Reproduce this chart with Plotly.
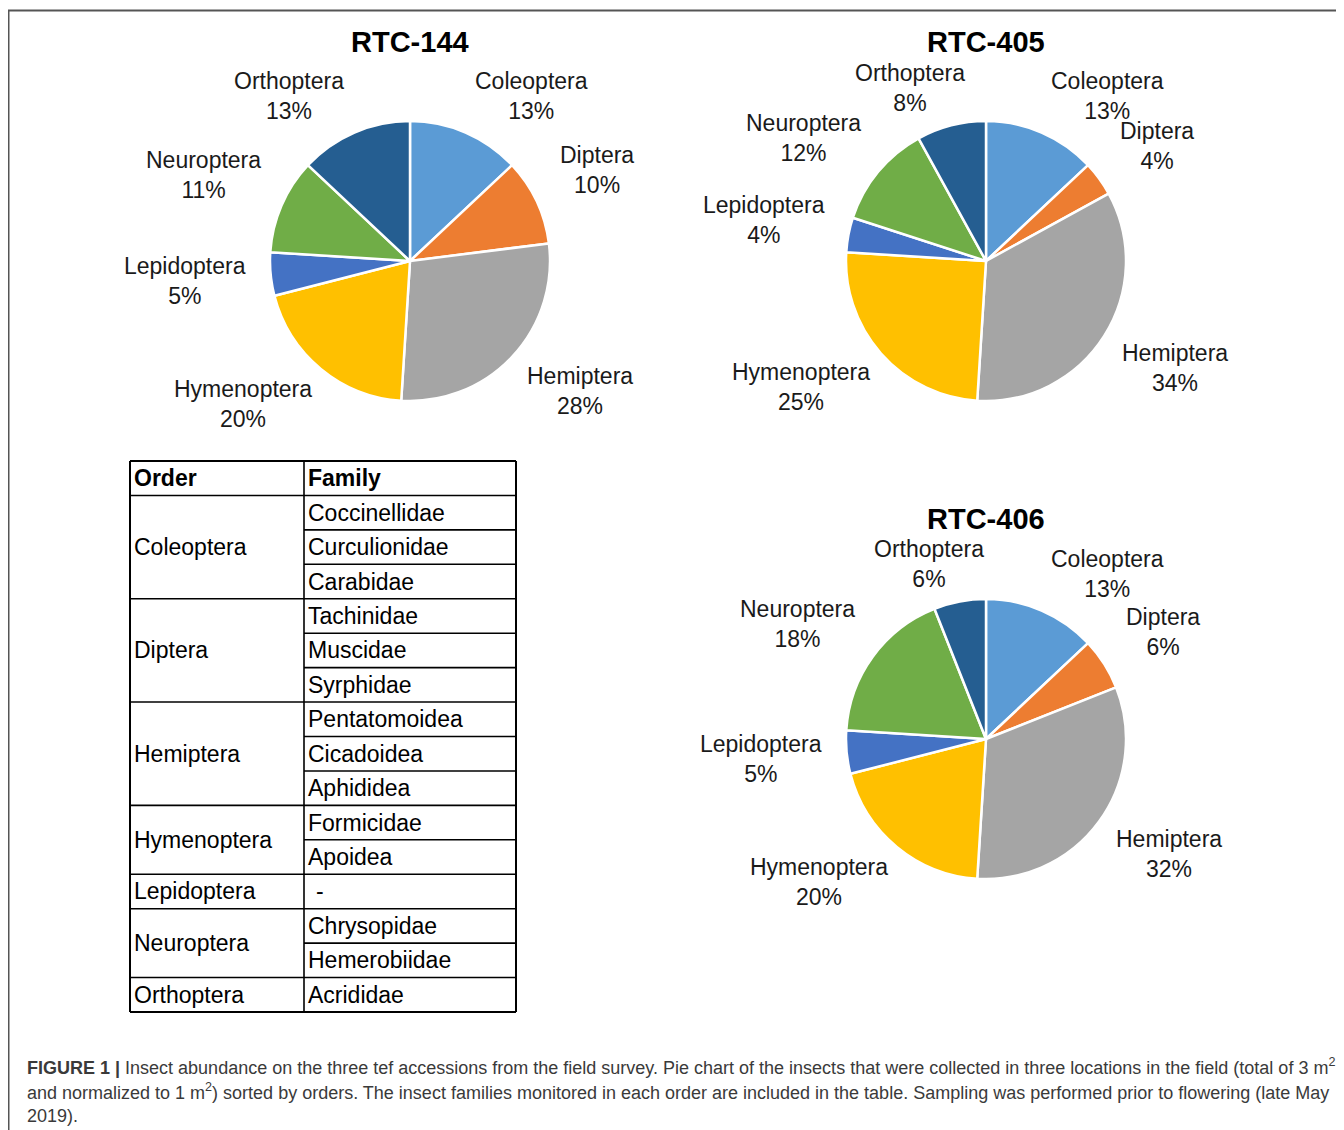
import math
import plotly.graph_objects as go

# page has an 8px body margin: figure is drawn in page coords shifted by OFF
OFF = 8
W, H = 1344 - OFF, 1130 - OFF

# ---------------- data ----------------
orders = ["Coleoptera", "Diptera", "Hemiptera", "Hymenoptera",
          "Lepidoptera", "Neuroptera", "Orthoptera"]
titles = ["RTC-144", "RTC-405", "RTC-406"]
rtc144 = [13, 10, 28, 20, 5, 11, 13]
rtc405 = [13, 4, 34, 25, 4, 12, 8]
rtc406 = [13, 6, 32, 20, 5, 18, 6]

families = [
    ["Coccinellidae", "Curculionidae", "Carabidae"],
    ["Tachinidae", "Muscidae", "Syrphidae"],
    ["Pentatomoidea", "Cicadoidea", "Aphididea"],
    ["Formicidae", "Apoidea"],
    ["-"],
    ["Chrysopidae", "Hemerobiidae"],
    ["Acrididae"],
]
table_header = ["Order", "Family"]

caption_lines = [
    "<b>FIGURE 1 |</b> Insect abundance on the three tef accessions from the field survey. "
    "Pie chart of the insects that were collected in three locations in the field (total of 3 m<sup>2</sup>",
    "and normalized to 1 m<sup>2</sup>) sorted by orders. The insect families monitored in each order "
    "are included in the table. Sampling was performed prior to flowering (late May",
    "2019).",
]

# ---------------- styles / layout ----------------
colors = ["#5B9BD5", "#ED7D31", "#A5A5A5", "#FFC000", "#4472C4", "#70AD47", "#255E91"]
FONT = "Liberation Sans, Arial, sans-serif"
LABEL_FS = 23
TITLE_FS = 29
R = 140
GAP_X, GAP_Y = 22, 11
pie_layout = [  # (centre x px, centre y px, title y px) in page pixels
    (410, 261, 42),
    (986, 261, 42),
    (986, 739, 519),
]
series = [rtc144, rtc405, rtc406]


def px(x):
    return (x - OFF) / W


def py(y):
    return 1 - (y - OFF) / H


fig = go.Figure()
annotations = []
shapes = []

for title, vals, (cx, cy, ty) in zip(titles, series, pie_layout):
    fig.add_trace(go.Pie(
        labels=orders, values=vals, sort=False, direction="clockwise", rotation=0,
        marker=dict(colors=colors, line=dict(color="white", width=2.5)),
        textinfo="none", hoverinfo="label+percent", showlegend=False,
        domain=dict(x=[px(cx - R), px(cx + R)], y=[py(cy + R), py(cy - R)]),
    ))
    annotations.append(dict(
        x=px(cx), y=py(ty), xref="paper", yref="paper", showarrow=False,
        text=f"<b>{title}</b>", font=dict(family=FONT, size=TITLE_FS, color="black"),
        xanchor="center", yanchor="middle"))
    total = sum(vals)
    cum = 0
    for name, v in zip(orders, vals):
        mid = (cum + v / 2) / total * 2 * math.pi
        cum += v
        s, c = math.sin(mid), math.cos(mid)
        ax, ay = cx + (R + GAP_X) * s, cy - (R + GAP_Y) * c
        pct = round(v / total * 100)
        w = 0.5 * LABEL_FS * max(len(name), len(f"{pct}%"))
        h = 2 * 1.15 * LABEL_FS
        fx = max(-1, min(1, 2.5 * s))
        fy = max(-1, min(1, 2.5 * c))
        tx, tyy = ax + fx * w / 2, ay - fy * h / 2
        annotations.append(dict(
            x=px(tx), y=py(tyy), xref="paper", yref="paper", showarrow=False,
            text=f"{name}<br>{pct}%", align="center",
            font=dict(family=FONT, size=LABEL_FS, color="#1a1a1a"),
            xanchor="center", yanchor="middle"))

# ---------------- table ----------------
TX0, TX1, TX2 = 130, 304, 516
TY0, TY1 = 461, 1012
n_rows = 1 + sum(len(f) for f in families)
rh = (TY1 - TY0) / n_rows
TABLE_FS = 23


def hline(x0, x1, y, w=1.6):
    shapes.append(dict(type="line", xref="paper", yref="paper",
                       x0=px(x0), x1=px(x1), y0=py(y), y1=py(y),
                       line=dict(color="black", width=w)))


def vline(x, y0, y1, w=1.6):
    shapes.append(dict(type="line", xref="paper", yref="paper",
                       x0=px(x), x1=px(x), y0=py(y0), y1=py(y1),
                       line=dict(color="black", width=w)))


def cell_text(x, y, t, bold=False):
    annotations.append(dict(
        x=px(x), y=py(y), xref="paper", yref="paper", showarrow=False,
        text=f"<b>{t}</b>" if bold else t, align="left",
        font=dict(family=FONT, size=TABLE_FS, color="black"),
        xanchor="left", yanchor="middle"))


# outer border
hline(TX0, TX2, TY0, 2)
hline(TX0, TX2, TY1, 2)
vline(TX0, TY0, TY1, 2)
vline(TX2, TY0, TY1, 2)
vline(TX1, TY0, TY1, 1.6)

cell_text(TX0 + 2, TY0 + rh / 2, table_header[0], bold=True)
cell_text(TX1 + 2, TY0 + rh / 2, table_header[1], bold=True)
row = 1
for order, fams in zip(orders, families):
    top = TY0 + row * rh
    hline(TX0, TX2, top)
    for i, fam in enumerate(fams):
        ry = TY0 + (row + i) * rh
        if i > 0:
            hline(TX1, TX2, ry)
        cell_text(TX1 + 2 + (8 if fam == "-" else 0), ry + rh / 2, fam)
    cell_text(TX0 + 2, top + len(fams) * rh / 2, order)
    row += len(fams)

# ---------------- frame ----------------
shapes.append(dict(type="line", xref="paper", yref="paper",
                   x0=px(7), x1=1, y0=py(10.5), y1=py(10.5),
                   line=dict(color="#555555", width=2)))
shapes.append(dict(type="line", xref="paper", yref="paper",
                   x0=px(8.5), x1=px(8.5), y0=py(10), y1=0,
                   line=dict(color="#555555", width=2)))

# ---------------- caption ----------------
for i, line in enumerate(caption_lines):
    annotations.append(dict(
        x=px(25), y=py(1066 + 25 * i), xref="paper", yref="paper", showarrow=False,
        text=line, align="left", font=dict(family=FONT, size=18, color="#3a3a3a"),
        xanchor="left", yanchor="middle"))

fig.update_layout(
    width=W, height=H, margin=dict(l=0, r=0, t=0, b=0),
    paper_bgcolor="white", plot_bgcolor="white",
    annotations=annotations, shapes=shapes,
)
fig.write_html("out.html")
